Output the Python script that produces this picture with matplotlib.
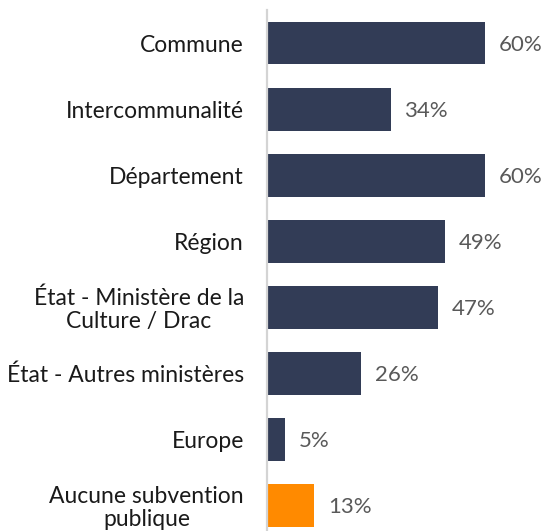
import matplotlib
matplotlib.use("Agg")
import matplotlib.pyplot as plt

categories = [
    "Commune",
    "Intercommunalité",
    "Département",
    "Région",
    "État - Ministère de la\nCulture / Drac",
    "État - Autres ministères",
    "Europe",
    "Aucune subvention\npublique",
]
values = [60, 34, 60, 49, 47, 26, 5, 13]
bar_colors = ["#323C56"] * 7 + ["#FF8A00"]

plt.rcParams["font.family"] = ["Lato", "DejaVu Sans"]

fig = plt.figure(figsize=(5.48, 5.31), dpi=100)
ax = fig.add_axes([267 / 548, 0.0, (539.5 - 267) / 548, 1 - 10 / 531])

ypos = list(range(len(categories)))
ax.barh(ypos, values, height=0.65, color=bar_colors, zorder=2)

ax.set_xlim(0, 75)
ax.set_ylim(7.39, -0.5)

for y, v in zip(ypos, values):
    ax.text(v + 3.8, y + 0.03, f"{v}%", va="center", ha="left",
            fontsize=16, color="#595959")

ax.set_yticks(ypos)
ax.set_yticklabels(categories, fontsize=16.5, color="#1a1a1a",
                   linespacing=1.1)
for lbl in ax.get_yticklabels():
    lbl.set_horizontalalignment("right")
    lbl.set_multialignment("center")
ax.tick_params(axis="y", length=0, pad=16.5)
ax.set_xticks([])

for side in ["top", "right", "bottom"]:
    ax.spines[side].set_visible(False)
ax.spines["left"].set_color("#D4D4D4")
ax.spines["left"].set_linewidth(1.6)

fig.savefig("out.png", dpi=100)
